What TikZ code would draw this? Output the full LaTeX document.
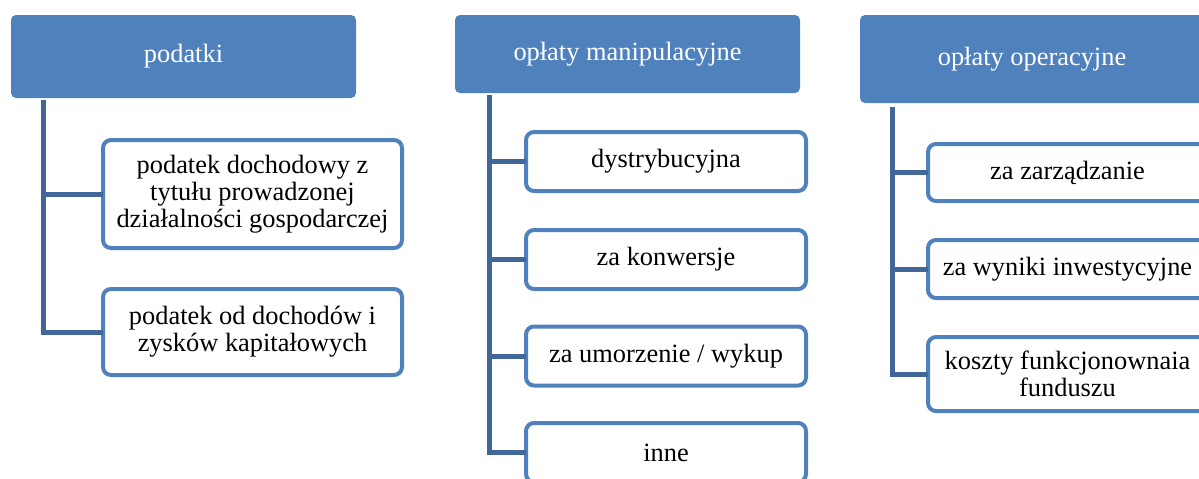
\documentclass[tikz,border=0pt]{standalone}
\usepackage{fontspec}
\setmainfont{Liberation Serif}
\newfontfamily\diagfont{Liberation Serif}
\definecolor{hdrblue}{HTML}{4F81BD}
\definecolor{linkblue}{HTML}{41679A}
\begin{document}
\begin{tikzpicture}[x=1pt,y=-1pt,
  every node/.style={outer sep=0pt, inner sep=2pt, font=\diagfont\fontsize{26.4}{27}\selectfont, align=center},
  hdr/.style={fill=hdrblue, draw=none, text=white, rounded corners=5pt},
  child/.style={draw=hdrblue, line width=4pt, fill=white, rounded corners=8pt, text=black},
  link/.style={draw=linkblue, line width=5pt}
]
\useasboundingbox (0,0) rectangle (1199,479);
% column 1
\node[hdr, minimum width=345pt, minimum height=83pt] (h1) at (183.5,56.5) {podatki};
\node[child, minimum width=299pt, minimum height=108pt] (c11) at (252.5,194) {podatek dochodowy z\\tytułu prowadzonej\\działalności gospodarczej};
\node[child, minimum width=299pt, minimum height=86pt] (c12) at (252.5,332) {podatek od dochodów i\\zysków kapitałowych};
\coordinate (v1) at ([xshift=32pt,yshift=-2pt]h1.south west);
\draw[link] (v1) |- (c12.west);
\draw[link] (v1 |- c11.west) -- (c11.west);
% column 2
\node[hdr, minimum width=345pt, minimum height=78pt] (h2) at (627.5,54) {opłaty manipulacyjne};
\node[child, minimum width=280pt, minimum height=59pt] (c21) at (666,161.5) {dystrybucyjna};
\node[child, minimum width=280pt, minimum height=59pt] (c22) at (666,259.5) {za konwersje};
\node[child, minimum width=280pt, minimum height=59pt] (c23) at (666,356) {za umorzenie / wykup};
\node[child, minimum width=280pt, minimum height=59pt] (c24) at (666,452.5) {inne};
\coordinate (v2) at ([xshift=34pt,yshift=-2pt]h2.south west);
\draw[link] (v2) |- (c24.west);
\draw[link] (v2 |- c21.west) -- (c21.west);
\draw[link] (v2 |- c22.west) -- (c22.west);
\draw[link] (v2 |- c23.west) -- (c23.west);
% column 3
\node[hdr, minimum width=344pt, minimum height=88pt] (h3) at (1032,59) {opłaty operacyjne};
\node[child, minimum width=279pt, minimum height=57pt] (c31) at (1067.5,172.5) {za zarządzanie};
\node[child, minimum width=279pt, minimum height=58pt] (c32) at (1067.5,269) {za wyniki inwestycyjne};
\node[child, minimum width=279pt, minimum height=74pt] (c33) at (1067.5,374) {koszty funkcjonownaia\\funduszu};
\coordinate (v3) at ([xshift=32pt,yshift=-4pt]h3.south west);
\draw[link] (v3) |- (c33.west);
\draw[link] (v3 |- c31.west) -- (c31.west);
\draw[link] (v3 |- c32.west) -- (c32.west);
\end{tikzpicture}
\end{document}
